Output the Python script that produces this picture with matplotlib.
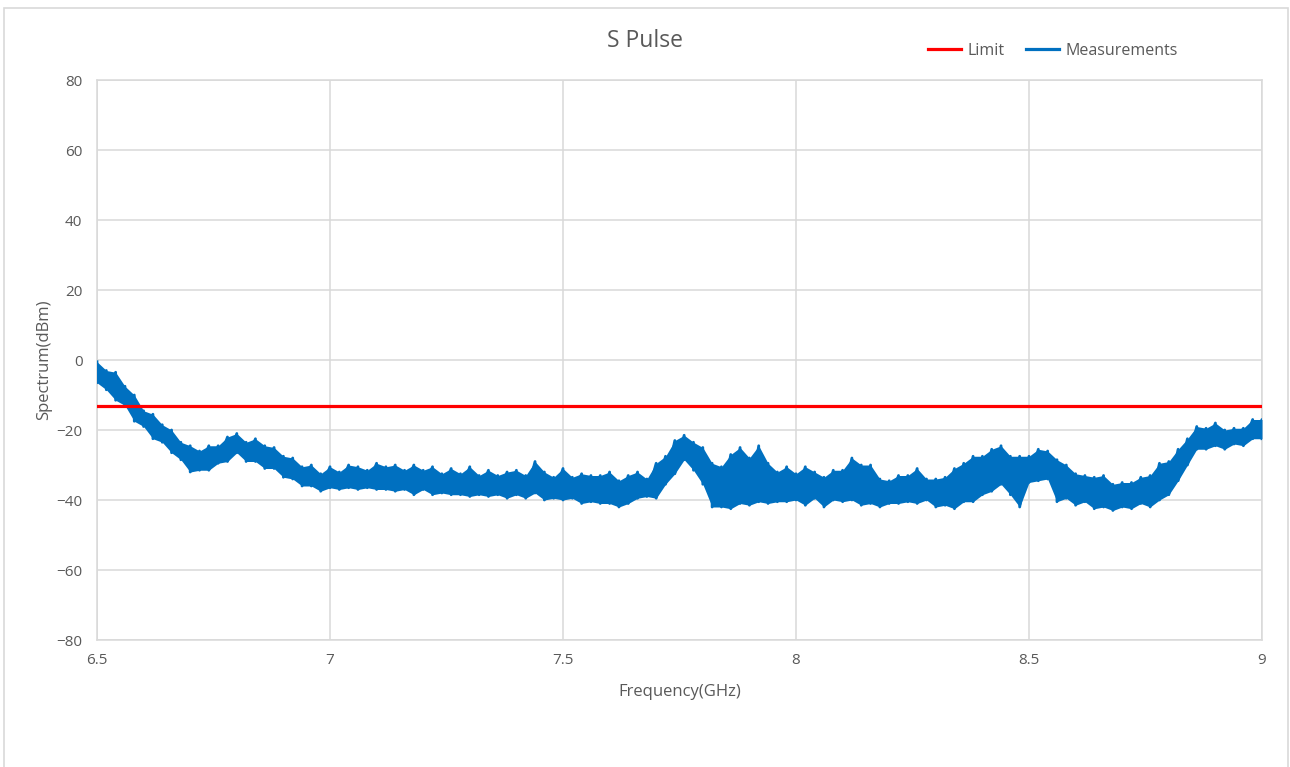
import matplotlib
matplotlib.use('Agg')
from matplotlib import pyplot as plt
from matplotlib.patches import Rectangle
import numpy as np

#----------------------------------
# Chart data
x_ticks = [6.5, 7, 7.5, 8, 8.5, 9]
y_ticks = [-80, -60, -40, -20, 0, 20, 40, 60, 80]
limit_freq = [6.5, 9.0]
limit_level = [-13, -13]  # dBm

# measurement trace: frequency (GHz), top and bottom of the noisy band (dBm)
meas_freq = [6.50, 6.52, 6.54, 6.56, 6.58, 6.60, 6.62, 6.64, 6.66, 6.68,
             6.70, 6.72, 6.74, 6.76, 6.78, 6.80, 6.82, 6.84, 6.86, 6.88,
             6.90, 6.92, 6.94, 6.96, 6.98, 7.00, 7.02, 7.04, 7.06, 7.08,
             7.10, 7.12, 7.14, 7.16, 7.18, 7.20, 7.22, 7.24, 7.26, 7.28,
             7.30, 7.32, 7.34, 7.36, 7.38, 7.40, 7.42, 7.44, 7.46, 7.48,
             7.50, 7.52, 7.54, 7.56, 7.58, 7.60, 7.62, 7.64, 7.66, 7.68,
             7.70, 7.72, 7.74, 7.76, 7.78, 7.80, 7.82, 7.84, 7.86, 7.88,
             7.90, 7.92, 7.94, 7.96, 7.98, 8.00, 8.02, 8.04, 8.06, 8.08,
             8.10, 8.12, 8.14, 8.16, 8.18, 8.20, 8.22, 8.24, 8.26, 8.28,
             8.30, 8.32, 8.34, 8.36, 8.38, 8.40, 8.42, 8.44, 8.46, 8.48,
             8.50, 8.52, 8.54, 8.56, 8.58, 8.60, 8.62, 8.64, 8.66, 8.68,
             8.70, 8.72, 8.74, 8.76, 8.78, 8.80, 8.82, 8.84, 8.86, 8.88,
             8.90, 8.92, 8.94, 8.96, 8.98, 9.00]
meas_hi = [-0.5, -3.0, -3.5, -7.5, -10.0, -14.5, -15.5, -18.5, -20.0, -23.5,
           -24.5, -26.0, -24.5, -24.5, -22.0, -21.0, -23.5, -22.5, -24.5, -25.0,
           -27.5, -28.0, -30.5, -30.0, -32.5, -30.5, -32.0, -30.0, -30.5, -31.5,
           -29.5, -30.5, -30.0, -31.5, -30.0, -31.5, -30.5, -32.5, -31.0, -32.5,
           -30.5, -33.0, -31.5, -33.0, -32.0, -31.5, -33.0, -29.0, -32.0, -33.5,
           -31.0, -33.5, -32.5, -33.0, -33.0, -32.0, -34.5, -33.0, -32.0, -34.0,
           -29.5, -27.5, -23.0, -21.5, -23.5, -25.0, -29.5, -30.5, -27.0, -25.0,
           -28.0, -24.5, -29.5, -32.0, -30.5, -32.5, -30.5, -32.0, -33.5, -31.5,
           -31.5, -28.0, -30.0, -30.0, -34.0, -34.5, -33.0, -33.0, -31.0, -34.0,
           -34.0, -33.5, -31.0, -29.5, -27.5, -27.5, -25.5, -24.5, -27.5, -27.5,
           -27.5, -25.5, -26.0, -28.5, -30.0, -32.5, -33.0, -33.5, -33.0, -35.5,
           -35.0, -35.0, -33.5, -33.0, -29.5, -29.0, -25.5, -22.5, -19.0, -19.5,
           -18.0, -20.0, -19.5, -19.5, -17.0, -17.0]
meas_lo = [-6.5, -8.5, -11.5, -13.0, -17.5, -19.0, -22.5, -23.5, -26.5, -28.5,
           -32.0, -31.5, -31.5, -29.5, -29.0, -26.5, -29.0, -29.0, -31.0, -31.0,
           -33.5, -34.0, -36.0, -36.0, -37.5, -36.5, -37.0, -36.5, -37.0, -36.5,
           -37.0, -37.0, -37.5, -37.0, -38.5, -37.0, -38.5, -38.0, -38.5, -38.5,
           -39.0, -38.5, -39.0, -38.5, -39.5, -38.5, -39.5, -38.0, -40.0, -39.5,
           -40.0, -39.5, -41.0, -40.5, -41.0, -41.0, -42.0, -41.0, -39.5, -39.0,
           -39.5, -35.5, -32.5, -28.5, -31.5, -35.5, -42.0, -42.0, -42.5, -41.0,
           -41.5, -40.5, -41.0, -40.5, -40.5, -40.0, -41.5, -39.5, -42.0, -40.0,
           -40.5, -40.0, -41.5, -41.0, -42.0, -41.0, -41.0, -40.5, -41.0, -40.0,
           -42.0, -41.5, -42.5, -40.5, -40.5, -38.5, -37.5, -35.5, -38.5, -42.0,
           -35.0, -34.5, -34.0, -40.5, -39.5, -41.5, -40.5, -42.5, -42.0, -43.0,
           -42.0, -42.5, -41.0, -42.0, -40.0, -38.5, -34.5, -30.0, -25.5, -25.5,
           -24.5, -25.5, -24.0, -24.5, -22.5, -22.5]

#----------------------------------
# Styling
grey_text = '#595959'
grid_col = '#d9d9d9'
blue = '#0070c0'
red = '#ff0000'
plt.rcParams['font.family'] = ['Open Sans', 'DejaVu Sans']

fig = plt.figure(figsize=(12.9, 7.67), dpi=100)
fig.patch.set_facecolor('white')
# outer chart frame
fig.patches.append(Rectangle((4 / 1290, -0.01), 1284 / 1290, 1.01 - 7.5 / 767,
                             transform=fig.transFigure, fill=False,
                             edgecolor=grid_col, linewidth=1.2))

ax = fig.add_axes([97 / 1290, 1 - 640 / 767, 1165 / 1290, 560 / 767])

# noisy band: solid fill between envelope plus a zigzag for the ragged edge
f = np.array(meas_freq)
hi = np.array(meas_hi)
lo = np.array(meas_lo)
ax.fill_between(f, lo, hi, color=blue, linewidth=0, zorder=3)
zz_x = np.repeat(f, 2)
zz_y = np.column_stack([hi, lo]).ravel()
ax.plot(zz_x, zz_y, color=blue, linewidth=2.0, zorder=3, label='Measurements')
ax.plot(limit_freq, limit_level, color=red, linewidth=2.3, zorder=4, label='Limit')

ax.set_xlim(6.5, 9)
ax.set_ylim(-80, 80)
ax.set_xticks(x_ticks)
ax.set_xticklabels([f'{t:g}' for t in x_ticks])
ax.set_yticks(y_ticks)
ax.grid(True, color=grid_col, linewidth=1.1)
ax.set_axisbelow(True)
for s in ax.spines.values():
    s.set_color(grid_col)
    s.set_linewidth(1.1)
ax.tick_params(length=0, colors=grey_text, labelsize=11)
ax.tick_params(axis='x', pad=9)
ax.tick_params(axis='y', pad=10.5)

ax.set_xlabel('Frequency(GHz)', color=grey_text, fontsize=12, labelpad=12)
ax.set_ylabel('Spectrum(dBm)', color=grey_text, fontsize=12, labelpad=3)

fig.text(645 / 1290, 1 - 41 / 767, 'S Pulse', ha='center', va='center',
         fontsize=16.5, color=grey_text)

handles, labels = ax.get_legend_handles_labels()
leg = fig.legend(handles[::-1], labels[::-1], loc='center',
                 bbox_to_anchor=(1053 / 1290, 1 - 51 / 767), ncol=2,
                 frameon=False, fontsize=11.5, handlelength=2.1,
                 handletextpad=0.4, columnspacing=1.3)
for t in leg.get_texts():
    t.set_color(grey_text)
for ln in leg.get_lines():
    ln.set_linewidth(2.3)

fig.savefig('out.png', dpi=100)
